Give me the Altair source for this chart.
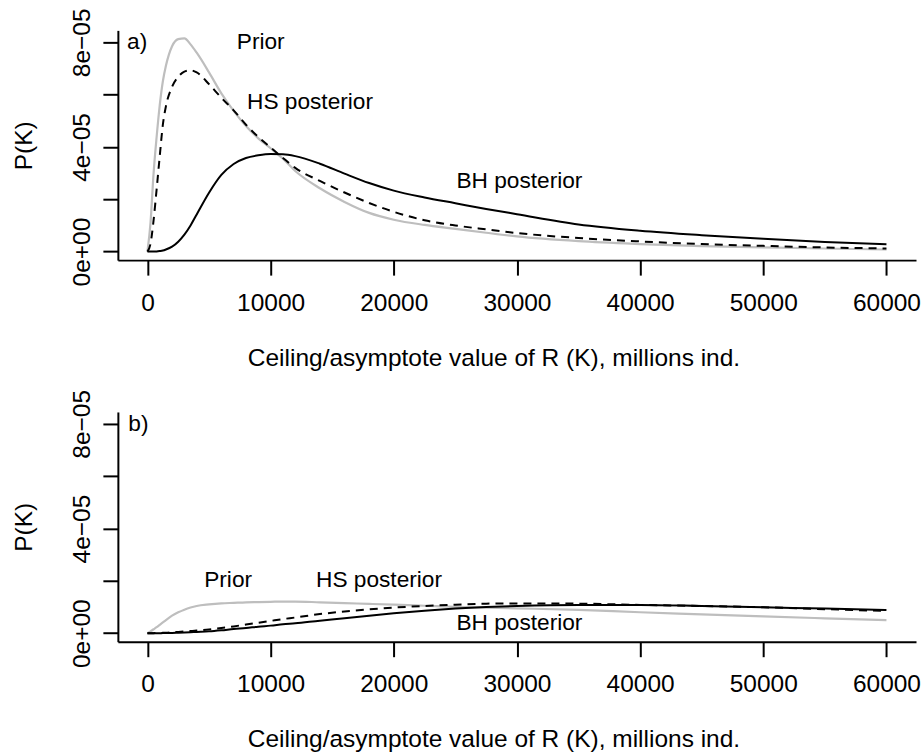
import altair as alt
import pandas as pd

# Ceiling value K (millions ind.)
K = [0, 250, 500, 750, 1000, 1250, 1500, 2000, 2500, 3000, 3500, 4000, 5000, 6000,
     7000, 8000, 9000, 10000, 11000, 12000, 14000, 16000, 18000, 20000, 22500, 25000,
     27500, 30000, 35000, 40000, 45000, 50000, 55000, 60000]

# Densities in units of 1e-05
prior_a = [0, 1.1, 3.0, 4.4, 5.6, 6.5, 7.1, 7.85, 8.12, 8.15, 7.92, 7.6, 6.85, 6.05,
           5.38, 4.80, 4.33, 3.95, 3.55, 3.08, 2.42, 1.90, 1.48, 1.22, 1.02, 0.87,
           0.72, 0.58, 0.40, 0.29, 0.21, 0.16, 0.12, 0.08]
hs_a = [0, 0.3, 1.2, 2.4, 3.65, 4.84, 5.55, 6.3, 6.68, 6.88, 6.93, 6.85, 6.4, 5.88,
        5.40, 4.85, 4.38, 3.98, 3.58, 3.2, 2.7, 2.26, 1.86, 1.52, 1.2, 1.0,
        0.85, 0.71, 0.52, 0.39, 0.29, 0.22, 0.16, 0.12]
bh_a = [0, 0, 0, 0.005, 0.02, 0.04, 0.08, 0.19, 0.38, 0.65, 1.0, 1.42, 2.25, 2.93,
        3.35, 3.58, 3.68, 3.73, 3.72, 3.65, 3.36, 2.98, 2.62, 2.33, 2.07, 1.85,
        1.63, 1.43, 1.04, 0.80, 0.63, 0.49, 0.37, 0.28]

prior_b = [0, 0.07, 0.15, 0.23, 0.32, 0.41, 0.5, 0.67, 0.8, 0.9, 0.98, 1.04, 1.10, 1.14,
           1.16, 1.18, 1.19, 1.20, 1.21, 1.21, 1.18, 1.15, 1.12, 1.09, 1.05, 1.01,
           0.98, 0.95, 0.89, 0.80, 0.72, 0.64, 0.57, 0.50]
hs_b = [0, 0, 0.003, 0.007, 0.01, 0.015, 0.02, 0.035, 0.05, 0.065, 0.08, 0.10, 0.14, 0.20,
        0.26, 0.33, 0.40, 0.47, 0.54, 0.60, 0.73, 0.83, 0.91, 0.98, 1.04, 1.09,
        1.13, 1.14, 1.13, 1.08, 1.04, 0.99, 0.92, 0.85]
bh_b = [0, 0, 0, 0, 0.002, 0.004, 0.006, 0.01, 0.02, 0.03, 0.04, 0.05, 0.07, 0.11,
        0.16, 0.20, 0.25, 0.29, 0.34, 0.38, 0.48, 0.57, 0.67, 0.76, 0.86, 0.94,
        1.0, 1.04, 1.08, 1.08, 1.04, 0.99, 0.94, 0.89]

# Annotations
text_a = ["a)", "Prior", "HS posterior", "BH posterior"]
text_a_k = [-1650, 9200, 13200, 30200]
text_a_p = [8.0, 8.0, 5.7, 2.7]
align_a = ["left", "center", "center", "center"]

text_b = ["b)", "Prior", "HS posterior", "BH posterior"]
text_b_k = [-1550, 6550, 18800, 30200]
text_b_p = [8.0, 2.04, 2.04, 0.38]
align_b = ["left", "center", "center", "center"]

x_ticks = [0, 10000, 20000, 30000, 40000, 50000, 60000]
y_ticks = [0, 2, 4, 6, 8]
x_title = "Ceiling/asymptote value of R (K), millions ind."
y_title = "P(K)"

FONT = "Liberation Sans"
FS = 24.5
FS_TXT = 22.7

xscale = alt.Scale(domain=[-2400, 62400], nice=False, zero=False)
yscale = alt.Scale(domain=[-0.325, 8.455], nice=False, zero=False)

xaxis = alt.Axis(values=x_ticks, format="d", title=x_title, grid=False,
                 tickSize=15, labelPadding=35, labelBaseline="alphabetic",
                 labelFontSize=FS, labelFont=FONT, titleFont=FONT, titleFontSize=FS,
                 titleFontWeight="normal", titleX=376, titleY=105,
                 titleAlign="center", titleBaseline="alphabetic",
                 labelOverlap=False, labelFlush=False)
yaxis = alt.Axis(values=y_ticks, title=y_title, grid=False,
                 labelExpr="datum.value == 0 ? '0e+00' : (datum.value % 4 == 0 ? datum.value + 'e\u221205' : '')",
                 tickSize=15, labelPadding=13, labelAngle=-90, labelAlign="center",
                 labelBaseline="alphabetic",
                 labelFontSize=FS, labelFont=FONT, titleFont=FONT, titleFontSize=FS,
                 titleFontWeight="normal", titleX=-86, titleY=115, titleAngle=-90,
                 titleAlign="center", titleBaseline="alphabetic",
                 labelOverlap=False, labelFlush=False)


def panel(prior, hs, bh, texts, tk, tp, aligns):
    df = pd.DataFrame({"K": K, "prior": prior, "hs": hs, "bh": bh})
    base = alt.Chart(df)
    x = alt.X("K:Q", scale=xscale, axis=xaxis)
    lp = base.mark_line(color="#bebebe", strokeWidth=2.2, interpolate="monotone").encode(
        x=x, y=alt.Y("prior:Q", scale=yscale, axis=yaxis))
    lh = base.mark_line(color="black", strokeWidth=2, strokeDash=[8, 6],
                        interpolate="monotone").encode(
        x=x, y=alt.Y("hs:Q", scale=yscale, axis=yaxis))
    lb = base.mark_line(color="black", strokeWidth=2, interpolate="monotone").encode(
        x=x, y=alt.Y("bh:Q", scale=yscale, axis=yaxis))
    tdf = pd.DataFrame({"label": texts, "K": tk, "P": tp, "al": aligns})
    tl = alt.Chart(tdf[tdf.al == "left"]).mark_text(
        font=FONT, fontSize=FS_TXT, align="left", baseline="middle", color="black").encode(
        x=alt.X("K:Q", scale=xscale, axis=xaxis),
        y=alt.Y("P:Q", scale=yscale, axis=yaxis), text="label:N")
    tc = alt.Chart(tdf[tdf.al == "center"]).mark_text(
        font=FONT, fontSize=FS_TXT, align="center", baseline="middle", color="black").encode(
        x=alt.X("K:Q", scale=xscale, axis=xaxis),
        y=alt.Y("P:Q", scale=yscale, axis=yaxis), text="label:N")
    return alt.layer(lp, lh, lb, tl, tc).properties(width=799, height=230)


pa = panel(prior_a, hs_a, bh_a, text_a, text_a_k, text_a_p, align_a)
pb = panel(prior_b, hs_b, bh_b, text_b, text_b_k, text_b_p, align_b)

chart = alt.vconcat(pa, pb, spacing=19).properties(
    padding={"left": 12, "top": 7, "right": 2, "bottom": 0},
    background="white"
).configure_view(stroke=None).configure_axis(
    domainColor="black", domainWidth=2, tickColor="black", tickWidth=2,
    labelColor="black", titleColor="black"
)

chart.save("out.html", embed_options={"renderer": "svg", "actions": False})
